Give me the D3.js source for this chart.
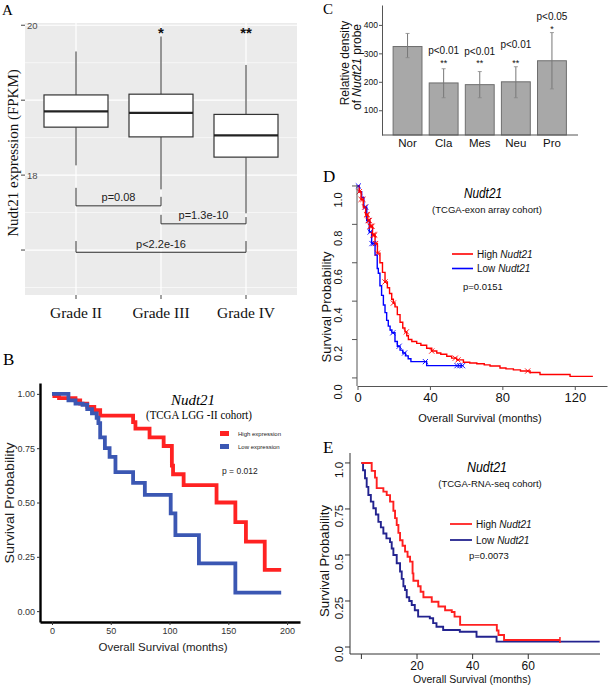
<!DOCTYPE html>
<html><head><meta charset="utf-8">
<script src="https://cdn.jsdelivr.net/npm/d3@7"></script>
<style>body{margin:0;background:#fff}</style>
</head><body><svg id="fig" width="609" height="685"></svg>
<script>
// ================= DATA =================
// Panel A: box plots
const gradeCategories = ["Grade II", "Grade III", "Grade IV"];
const gradeWhiskerLow = [18.13, 17.81, 17.49];
const gradeQ1 = [18.64, 18.51, 18.24];
const gradeMedian = [18.85, 18.83, 18.53];
const gradeQ3 = [19.07, 19.08, 18.81];
const gradeWhiskerHigh = [19.65, 19.85, 19.47];
const gradeStars = ["", "*", "**"];
const exprTicks = [17, 18, 19, 20];
const exprTickLabels = ["", "18", "", "20"];
const compFrom = ["Grade II", "Grade III", "Grade II"];
const compTo = ["Grade III", "Grade IV", "Grade IV"];
const compLabels = ["p=0.08", "p=1.3e-10", "p<2.2e-16"];
const compLevel = [17.59, 17.35, 16.97];
const compLeftTop = [17.83, 17.47, 17.12];
const compRightTop = [17.71, 17.44, 17.12];

// Panel B: KM, TCGA LGG-II
const lggHighTime = [0, 2, 6, 20, 24, 30, 36, 41, 69, 71, 83, 95, 102, 103, 112, 140, 156, 165, 181, 195];
const lggHighSurv = [1.0, 0.99, 0.98, 0.97, 0.955, 0.94, 0.925, 0.90, 0.87, 0.84, 0.80, 0.76, 0.67, 0.63, 0.58, 0.50, 0.41, 0.32, 0.19, 0.19];
const lggLowTime = [0, 14, 20, 26, 30, 34, 38, 39.5, 41, 45, 49, 54, 69, 79, 101, 105, 125, 156, 195];
const lggLowSurv = [1.0, 0.97, 0.955, 0.95, 0.93, 0.91, 0.89, 0.865, 0.80, 0.75, 0.71, 0.64, 0.59, 0.535, 0.45, 0.35, 0.22, 0.085, 0.085];
const lggTicksX = [0, 50, 100, 150, 200];
const lggTicksY = [0, 0.25, 0.5, 0.75, 1.0];

// Panel C: bar chart
const subtypes = ["Nor", "Cla", "Mes", "Neu", "Pro"];
const densityMean = [324, 196, 190, 200, 274];
const densityErrLow = [285, 144, 144, 144, 175];
const densityErrHigh = [370, 246, 236, 253, 373];
const densityPLabels = ["", "p<0.01", "p<0.01", "p<0.01", "p<0.05"];
const densityStars = ["", "**", "**", "**", "*"];
const densityPLevel = [0, 310, 306, 331, 430];
const densityStarLevel = [0, 274, 274, 274, 391];
const densityTicks = [100, 200, 300, 400];

// Panel D: KM, TCGA exon array
const exonHighTime = [0, 1, 2, 3.2, 4.5, 5.7, 6.9, 8.3, 9.7, 11, 12.4, 13.8, 15.2, 16.5, 17.7, 18.9, 19.8, 20.7, 22, 23.5, 25, 26.2, 27.2, 28.1, 30, 32.7, 35, 38.2, 41, 43.8, 46, 49.3, 52, 54.8, 58.5, 62, 65.9, 70, 73.2, 78.7, 82, 86.1, 90, 95.3, 100.8, 117.4, 130];
const exonHighSurv = [1.0, 0.97, 0.93, 0.89, 0.85, 0.82, 0.79, 0.745, 0.70, 0.65, 0.60, 0.55, 0.50, 0.47, 0.44, 0.41, 0.39, 0.37, 0.33, 0.29, 0.26, 0.24, 0.22, 0.20, 0.19, 0.18, 0.17, 0.155, 0.14, 0.13, 0.123, 0.113, 0.103, 0.094, 0.082, 0.078, 0.074, 0.068, 0.062, 0.052, 0.047, 0.042, 0.036, 0.028, 0.018, 0.008, 0.008];
const exonLowTime = [0, 1, 2.3, 3.5, 5.1, 6.5, 7.8, 9.7, 10.9, 11.5, 12.4, 13.3, 14.3, 15.2, 16.1, 17, 18, 19, 20.7, 22, 23.5, 25, 26.5, 28, 29.5, 38.2, 58.5];
const exonLowSurv = [1.0, 0.97, 0.94, 0.89, 0.82, 0.76, 0.70, 0.64, 0.57, 0.545, 0.48, 0.43, 0.38, 0.34, 0.30, 0.27, 0.25, 0.235, 0.19, 0.165, 0.145, 0.13, 0.115, 0.10, 0.085, 0.064, 0.064];
const exonHighCensor = [1, 2, 3, 4, 5, 5.5, 6, 6.5, 7, 7.5, 8, 8.5, 9, 9.5, 10, 11, 15.2, 19.8, 27, 41, 54, 55.5, 94];
const exonLowCensor = [0.5, 4.5, 6, 7, 8, 9, 19.5, 23, 26, 37.5, 55, 56.5, 58];
const exonTicksX = [0, 40, 80, 120];
const exonTicksY = [0, 0.2, 0.4, 0.6, 0.8, 1.0];

// Panel E: KM, TCGA RNA-seq
const rnaHighTime = [0, 3.7, 4.9, 5.5, 7.9, 9.1, 10.3, 11.5, 12.1, 12.7, 13.3, 13.9, 14.8, 15.7, 16.6, 17.5, 18.4, 18.7, 20.4, 21.3, 22.3, 25.3, 27.7, 30.1, 32.5, 33.5, 35.5, 48.7, 49.3, 51.3, 71.4];
const rnaHighSurv = [1.0, 0.957, 0.92, 0.863, 0.844, 0.825, 0.79, 0.74, 0.70, 0.663, 0.62, 0.58, 0.55, 0.518, 0.49, 0.464, 0.40, 0.36, 0.33, 0.30, 0.27, 0.246, 0.22, 0.20, 0.19, 0.165, 0.12, 0.09, 0.065, 0.038, 0.038];
const rnaLowTime = [0, 0.6, 1.3, 1.9, 2.5, 3.4, 4.3, 5.2, 6.1, 7, 7.9, 9, 10.3, 10.9, 11.5, 12.7, 13.9, 14.5, 15.1, 15.7, 16.3, 17.2, 18.1, 19.2, 20.4, 24.6, 25.8, 27, 29.4, 35.4, 41.4, 48.6, 85.7];
const rnaLowSurv = [1.0, 0.96, 0.917, 0.87, 0.826, 0.79, 0.754, 0.72, 0.68, 0.65, 0.617, 0.59, 0.57, 0.535, 0.50, 0.455, 0.41, 0.37, 0.33, 0.31, 0.27, 0.25, 0.228, 0.20, 0.165, 0.156, 0.13, 0.11, 0.092, 0.083, 0.056, 0.029, 0.029];
const rnaHighCensor = [71.4];
const rnaTicksX = [0, 20, 40, 60];
const rnaTickLabelsX = ["", "20", "40", "60"];
const rnaTicksY = [0, 0.25, 0.5, 0.75, 1.0];
const rnaTickLabelsY = ["0.0", "0.25", "0.5", "0.75", "1.0"];

// ================= DRAWING =================
const svg = d3.select("#fig");
svg.append("rect").attr("width", 609).attr("height", 685).attr("fill", "#fff");
const SERIF = "'Liberation Serif','Times New Roman',serif";
const SANS = "'Liberation Sans',Arial,sans-serif";

function zip(a, b) { return a.map((v, i) => [v, b[i]]); }
function survAt(times, surv, t) { let s = surv[0]; for (let i = 0; i < times.length; i++) if (times[i] <= t) s = surv[i]; return s; }
function label(g, txt, x, y, opts = {}) {
  const t = g.append("text").attr("x", x).attr("y", y).text(txt)
    .attr("font-family", opts.family || SANS).attr("font-size", opts.size || 10)
    .attr("fill", opts.fill || "#000").attr("text-anchor", opts.anchor || "start");
  if (opts.italic) t.attr("font-style", "italic");
  if (opts.bold) t.attr("font-weight", "bold");
  if (opts.len) t.attr("textLength", opts.len).attr("lengthAdjust", "spacingAndGlyphs");
  return t;
}
function rotLabel(g, txt, x, y, opts = {}) {
  const t = label(g, txt, 0, 0, Object.assign({ anchor: "middle" }, opts));
  t.attr("transform", `translate(${x},${y}) rotate(-90)`);
  return t;
}

// ---------- Panel A ----------
(function () {
  const g = svg.append("g");
  const x = d3.scalePoint().domain(gradeCategories).range([76, 246]);
  const y = d3.scaleLinear().domain([16.4, 20.03]).range([295, 23]);
  const bw = 64;
  g.append("rect").attr("x", 25).attr("y", 23).attr("width", 272).attr("height", 272).attr("fill", "#ebebeb");
  g.selectAll(".mn").data(exprTicks.map(t => t - 0.5)).join("line")
    .attr("x1", 25).attr("x2", 297).attr("y1", d => y(d)).attr("y2", d => y(d))
    .attr("stroke", "#fff").attr("stroke-width", 0.6);
  g.selectAll(".mj").data(exprTicks).join("line")
    .attr("x1", 25).attr("x2", 297).attr("y1", d => y(d)).attr("y2", d => y(d))
    .attr("stroke", "#fff").attr("stroke-width", 1.2);
  g.selectAll(".vg").data(gradeCategories).join("line")
    .attr("x1", d => x(d)).attr("x2", d => x(d)).attr("y1", 23).attr("y2", 295)
    .attr("stroke", "#fff").attr("stroke-width", 1.2);
  exprTicks.forEach((t, i) => {
    g.append("line").attr("x1", 21).attr("x2", 25).attr("y1", y(t)).attr("y2", y(t)).attr("stroke", "#444").attr("stroke-width", 1);
    if (exprTickLabels[i]) label(g, exprTickLabels[i], 27, y(t) + 3.5, { size: 9.5, fill: "#4d4d4d" });
  });
  gradeCategories.forEach((c, i) => {
    g.append("line").attr("x1", x(c)).attr("x2", x(c)).attr("y1", 295).attr("y2", 299).attr("stroke", "#444");
    label(g, c, x(c), 318, { family: SERIF, size: 15.5, anchor: "middle", fill: "#111" });
    g.append("line").attr("x1", x(c)).attr("x2", x(c)).attr("y1", y(gradeWhiskerHigh[i])).attr("y2", y(gradeQ3[i])).attr("stroke", "#333").attr("stroke-width", 1);
    g.append("line").attr("x1", x(c)).attr("x2", x(c)).attr("y1", y(gradeQ1[i])).attr("y2", y(gradeWhiskerLow[i])).attr("stroke", "#333").attr("stroke-width", 1);
    g.append("rect").attr("x", x(c) - bw / 2).attr("width", bw).attr("y", y(gradeQ3[i])).attr("height", y(gradeQ1[i]) - y(gradeQ3[i]))
      .attr("fill", "#fff").attr("stroke", "#333").attr("stroke-width", 1.2);
    g.append("line").attr("x1", x(c) - bw / 2).attr("x2", x(c) + bw / 2).attr("y1", y(gradeMedian[i])).attr("y2", y(gradeMedian[i])).attr("stroke", "#222").attr("stroke-width", 2.2);
    if (gradeStars[i]) label(g, gradeStars[i], x(c), 38, { size: 15, bold: true, anchor: "middle", fill: "#111" });
  });
  compLabels.forEach((lab, i) => {
    const x1 = x(compFrom[i]), x2 = x(compTo[i]), yl = y(compLevel[i]);
    g.append("path").attr("d", `M${x1},${y(compLeftTop[i])}V${yl}H${x2}V${y(compRightTop[i])}`)
      .attr("fill", "none").attr("stroke", "#333").attr("stroke-width", 1);
    label(g, lab, (x1 + x2) / 2, yl - 4.5, { size: 11, anchor: "middle", fill: "#222" });
  });
  rotLabel(g, "Nudt21 expression (FPKM)", 18, 153, { family: SERIF, size: 15, fill: "#111" });
  label(g, "A", 2, 15, { family: SERIF, size: 15 });
})();

// ---------- Panel B ----------
(function () {
  const g = svg.append("g");
  const x = d3.scaleLinear().domain([-10.2, 211]).range([40, 300]);
  const y = d3.scaleLinear().domain([-0.05, 1.05]).range([622, 383]);
  const line = d3.line().x(d => x(d[0])).y(d => y(d[1])).curve(d3.curveStepAfter);
  g.append("path").attr("d", line(zip(lggHighTime, lggHighSurv))).attr("fill", "none").attr("stroke", "#ff2222").attr("stroke-width", 3.8);
  g.append("path").attr("d", line(zip(lggLowTime, lggLowSurv))).attr("fill", "none").attr("stroke", "#3b57b3").attr("stroke-width", 3.8);
  const ax = g.append("g").attr("transform", "translate(0,622)")
    .call(d3.axisBottom(x).tickValues(lggTicksX).tickSize(3).tickSizeOuter(0).tickPadding(3));
  const ay = g.append("g").attr("transform", "translate(40,0)")
    .call(d3.axisLeft(y).tickValues(lggTicksY).tickFormat(d3.format(".2f")).tickSize(3).tickSizeOuter(0).tickPadding(2));
  [ax, ay].forEach(a => {
    a.select(".domain").attr("stroke", "#000").attr("stroke-width", 2.4);
    a.selectAll(".tick line").attr("stroke", "#333");
    a.selectAll(".tick text").attr("font-family", SANS).attr("font-size", 9).attr("fill", "#333");
  });
  label(g, "Overall Survival (months)", 163, 651, { size: 11.5, anchor: "middle", fill: "#222" });
  rotLabel(g, "Survival Probability", 14, 503, { size: 13, fill: "#222", len: 121 });
  label(g, "Nudt21", 193, 405, { family: SERIF, size: 15, italic: true, anchor: "middle" });
  label(g, "(TCGA LGG -II cohort)", 199, 419, { family: SERIF, size: 12, anchor: "middle", len: 106 });
  g.append("rect").attr("x", 220).attr("y", 431).attr("width", 9).attr("height", 5).attr("fill", "#ff2222");
  g.append("rect").attr("x", 220).attr("y", 444).attr("width", 9).attr("height", 5).attr("fill", "#3b57b3");
  label(g, "High expression", 238, 435.5, { size: 6, fill: "#222" });
  label(g, "Low expression", 238, 448.5, { size: 6, fill: "#222" });
  label(g, "p = 0.012", 222, 474, { size: 8.5, fill: "#222" });
  label(g, "B", 3, 365, { family: SERIF, size: 17 });
})();

// ---------- Panel C ----------
(function () {
  const g = svg.append("g");
  const x = d3.scaleBand().domain(subtypes).range([389.5, 570]).paddingInner(0.2).paddingOuter(0.1);
  const y = d3.scaleLinear().domain([13, 470]).range([135, 5]);
  subtypes.forEach((s, i) => {
    g.append("rect").attr("x", x(s)).attr("width", x.bandwidth()).attr("y", y(densityMean[i])).attr("height", y(13) - y(densityMean[i]))
      .attr("fill", "#a8a8a8").attr("stroke", "#6e6e6e").attr("stroke-width", 1);
    const cx = x(s) + x.bandwidth() / 2;
    g.append("line").attr("x1", cx).attr("x2", cx).attr("y1", y(densityErrLow[i])).attr("y2", y(densityErrHigh[i])).attr("stroke", "#777").attr("stroke-width", 1);
    g.append("line").attr("x1", cx - 2).attr("x2", cx + 2).attr("y1", y(densityErrHigh[i])).attr("y2", y(densityErrHigh[i])).attr("stroke", "#888").attr("stroke-width", 0.8);
    g.append("line").attr("x1", cx - 2).attr("x2", cx + 2).attr("y1", y(densityErrLow[i])).attr("y2", y(densityErrLow[i])).attr("stroke", "#888").attr("stroke-width", 0.8);
    label(g, s, cx, 147, { size: 11.5, anchor: "middle", fill: "#111" });
    if (densityPLabels[i]) label(g, densityPLabels[i], cx, y(densityPLevel[i]) + 3.5, { size: 10, anchor: "middle", fill: "#111" });
    if (densityStars[i]) label(g, densityStars[i], cx, y(densityStarLevel[i]) + 5, { size: 9, anchor: "middle", fill: "#111" });
  });
  const ay = g.append("g").attr("transform", "translate(382,0)")
    .call(d3.axisLeft(y).tickValues(densityTicks).tickSize(3).tickSizeOuter(0).tickPadding(1));
  ay.select(".domain").attr("stroke", "#555");
  ay.selectAll(".tick line").attr("stroke", "#555");
  ay.selectAll(".tick text").attr("font-family", SANS).attr("font-size", 8.5).attr("fill", "#111");
  g.append("line").attr("x1", 382).attr("x2", 578).attr("y1", 135).attr("y2", 135).attr("stroke", "#555");
  rotLabel(g, "Relative density", 349, 63, { size: 12, fill: "#111" });
  const t2 = rotLabel(g, "of ", 361, 67, { size: 12, fill: "#111" });
  t2.text(null);
  t2.append("tspan").text("of ");
  t2.append("tspan").attr("font-style", "italic").text("Nudt21");
  t2.append("tspan").text(" probe");
  label(g, "C", 323, 14, { family: SERIF, size: 15 });
})();

// ---------- KM helpers for D/E ----------
function legendEntry(g, x0, x1, yy, color, w) {
  g.append("line").attr("x1", x0).attr("x2", x1).attr("y1", yy).attr("y2", yy).attr("stroke", color).attr("stroke-width", w);
}
function richLabel(g, pre, ital, x, y, size) {
  const t = g.append("text").attr("x", x).attr("y", y).attr("font-family", SANS).attr("font-size", size).attr("fill", "#111");
  t.append("tspan").text(pre);
  t.append("tspan").attr("font-style", "italic").text(ital);
}

// ---------- Panel D ----------
(function () {
  const g = svg.append("g");
  const x = d3.scaleLinear().domain([0, 137.8]).range([357.5, 607]);
  const y = d3.scaleLinear().domain([-0.042, 1.005]).range([386, 185]);
  const line = d3.line().x(d => x(d[0])).y(d => y(d[1])).curve(d3.curveStepAfter);
  g.append("path").attr("d", line(zip(exonLowTime, exonLowSurv))).attr("fill", "none").attr("stroke", "#0000ff").attr("stroke-width", 1.4);
  g.append("path").attr("d", line(zip(exonHighTime, exonHighSurv))).attr("fill", "none").attr("stroke", "#ff0000").attr("stroke-width", 1.4);
  const cross = (t, s, color) => {
    const cx = x(t), cy = y(s), r = 2.6;
    g.append("path").attr("d", `M${cx - r},${cy - r}L${cx + r},${cy + r}M${cx - r},${cy + r}L${cx + r},${cy - r}`).attr("stroke", color).attr("stroke-width", 0.9).attr("fill", "none");
  };
  exonLowCensor.forEach(t => cross(t, survAt(exonLowTime, exonLowSurv, t), "#0000ff"));
  exonHighCensor.forEach(t => cross(t, survAt(exonHighTime, exonHighSurv, t), "#ff0000"));
  const ax = g.append("g").attr("transform", "translate(0,386)")
    .call(d3.axisBottom(x).tickValues(exonTicksX).tickSize(4).tickSizeOuter(0).tickPadding(3));
  ax.select(".domain").attr("stroke", "#555");
  ax.selectAll(".tick line").attr("stroke", "#555");
  ax.selectAll(".tick text").attr("font-family", SANS).attr("font-size", 13).attr("fill", "#111");
  g.append("line").attr("x1", 357).attr("x2", 357).attr("y1", 185).attr("y2", 386).attr("stroke", "#555");
  exonTicksY.forEach(v => {
    g.append("line").attr("x1", 352).attr("x2", 357).attr("y1", y(v)).attr("y2", y(v)).attr("stroke", "#555");
    rotLabel(g, d3.format(".1f")(v), 342, y(v) + 14, { size: 11, fill: "#111" });
  });
  label(g, "Overall Survival (months)", 480, 422, { size: 11, anchor: "middle", fill: "#111" });
  rotLabel(g, "Survival Probability", 331, 307, { size: 12.5, fill: "#111", len: 111 });
  label(g, "Nudt21", 483, 198, { size: 15, italic: true, anchor: "middle", len: 38 });
  label(g, "(TCGA-exon array cohort)", 487, 213, { size: 9.5, anchor: "middle", fill: "#111" });
  legendEntry(g, 452, 473, 254, "#ff0000", 1.6);
  legendEntry(g, 452, 473, 268.5, "#0000ff", 1.6);
  richLabel(g, "High ", "Nudt21", 477, 257.5, 10);
  richLabel(g, "Low ", "Nudt21", 477, 272, 10);
  label(g, "p=0.0151", 463, 290, { size: 9.5, fill: "#111" });
  label(g, "D", 323, 182, { family: SERIF, size: 17 });
})();

// ---------- Panel E ----------
(function () {
  const g = svg.append("g");
  const x = d3.scaleLinear().domain([-4.1, 85.8]).range([350, 600]);
  const y = d3.scaleLinear().domain([-0.038, 1.054]).range([654, 453]);
  const line = d3.line().x(d => x(d[0])).y(d => y(d[1])).curve(d3.curveStepAfter);
  g.append("path").attr("d", line(zip(rnaLowTime, rnaLowSurv))).attr("fill", "none").attr("stroke", "#23238f").attr("stroke-width", 1.9);
  g.append("path").attr("d", line(zip(rnaHighTime, rnaHighSurv))).attr("fill", "none").attr("stroke", "#ff2020").attr("stroke-width", 1.9);
  rnaHighCensor.forEach(t => {
    const s = survAt(rnaHighTime, rnaHighSurv, t);
    g.append("line").attr("x1", x(t)).attr("x2", x(t)).attr("y1", y(s) - 3).attr("y2", y(s) + 3).attr("stroke", "#ff2020").attr("stroke-width", 1.5);
  });
  g.append("line").attr("x1", 350).attr("x2", 600).attr("y1", 654).attr("y2", 654).attr("stroke", "#333");
  g.append("line").attr("x1", 350).attr("x2", 350).attr("y1", 453).attr("y2", 654).attr("stroke", "#333");
  rnaTicksX.forEach((v, i) => {
    g.append("line").attr("x1", x(v)).attr("x2", x(v)).attr("y1", 654).attr("y2", 659).attr("stroke", "#333");
    if (rnaTickLabelsX[i]) label(g, rnaTickLabelsX[i], x(v), 669.5, { size: 12, anchor: "middle", fill: "#111" });
  });
  rnaTicksY.forEach((v, i) => {
    g.append("line").attr("x1", 345).attr("x2", 350).attr("y1", y(v)).attr("y2", y(v)).attr("stroke", "#333");
    rotLabel(g, rnaTickLabelsY[i], 343, y(v) + 7, { size: 11.5, fill: "#111" });
  });
  label(g, "Overall Survival (months)", 472, 682.5, { size: 10.5, anchor: "middle", fill: "#111" });
  rotLabel(g, "Survival Probability", 329, 561, { size: 12.5, fill: "#111", len: 112 });
  label(g, "Nudt21", 487, 472, { size: 15, italic: true, anchor: "middle", len: 40 });
  label(g, "(TCGA-RNA-seq cohort)", 490, 487, { size: 9.5, anchor: "middle", fill: "#111" });
  legendEntry(g, 450, 472, 524, "#ff2020", 1.8);
  legendEntry(g, 450, 472, 540, "#23238f", 1.8);
  richLabel(g, "High ", "Nudt21", 476, 527.5, 10);
  richLabel(g, "Low ", "Nudt21", 476, 543.5, 10);
  label(g, "p=0.0073", 469, 559, { size: 9.5, fill: "#111" });
  label(g, "E", 323, 453, { family: SERIF, size: 17 });
})();
</script></body></html>
